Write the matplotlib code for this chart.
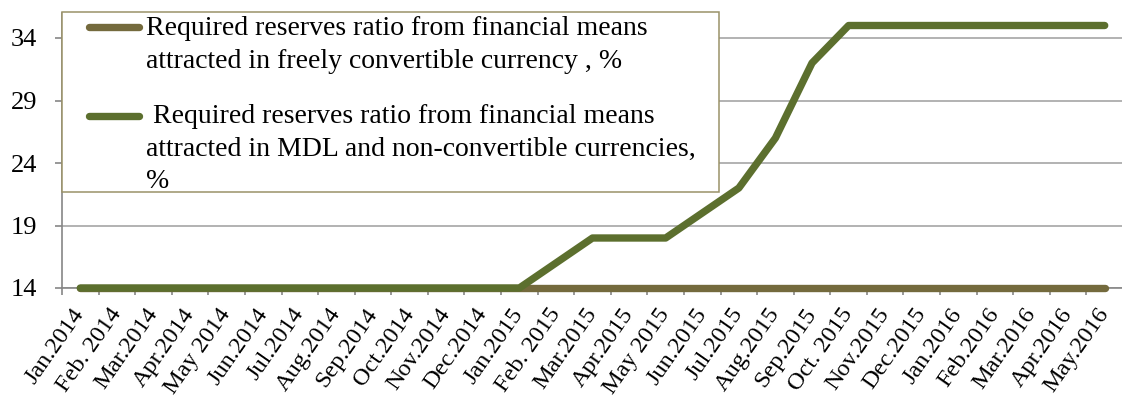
import matplotlib.pyplot as plt
import numpy as np
from matplotlib.patches import Rectangle
from matplotlib.lines import Line2D

months = ["Jan.2014", "Feb. 2014", "Mar.2014", "Apr.2014", "May 2014", "Jun.2014",
          "Jul.2014", "Aug.2014", "Sep.2014", "Oct.2014", "Nov.2014", "Dec.2014",
          "Jan.2015", "Feb. 2015", "Mar.2015", "Apr.2015", "May 2015", "Jun.2015",
          "Jul.2015", "Aug.2015", "Sep.2015", "Oct. 2015", "Nov.2015", "Dec.2015",
          "Jan.2016", "Feb.2016", "Mar.2016", "Apr.2016", "May.2016"]

# required reserves, %
fcc_ratio = [14] * 29
mdl_ratio = [14, 14, 14, 14, 14, 14, 14, 14, 14, 14, 14, 14, 14,
             16, 18, 18, 18, 20, 22, 26, 32,
             35, 35, 35, 35, 35, 35, 35, 35]

labels = ["Required reserves ratio from financial means\n"
          "attracted in freely convertible currency , %",
          " Required reserves ratio from financial means\n"
          "attracted in MDL and non-convertible currencies,\n%"]

brown = "#746A3D"
green = "#5C6F2E"
grid_gray = "#A6A6A6"
font = "Liberation Serif"

W, H = 1122, 401
fig = plt.figure(figsize=(W / 100, H / 100), dpi=100)
ax = fig.add_axes([62 / W, (H - 288) / H, 1061 / W, 275 / H])

x = np.arange(len(months))
ax.plot(x, fcc_ratio, color=brown, lw=5.3, solid_capstyle="round",
        solid_joinstyle="round", zorder=3, clip_on=False)
ax.plot(x, mdl_ratio, color=green, lw=5.3, solid_capstyle="round",
        solid_joinstyle="round", zorder=4, clip_on=False)

ax.set_xlim(-0.5, len(months) - 0.5)
ax.set_ylim(14, 36)
ax.set_yticks([14, 19, 24, 29, 34])
ax.yaxis.grid(True, color=grid_gray, lw=1.2)
ax.set_axisbelow(True)

for s in ["top", "right"]:
    ax.spines[s].set_visible(False)
for s in ["left", "bottom"]:
    ax.spines[s].set_color("#868686")
    ax.spines[s].set_linewidth(1.2)

# boundary ticks between months, labels centred on months
ax.set_xticks(np.arange(-0.5, len(months), 1.0))
ax.set_xticklabels([])
ax.set_xticks(x, minor=True)
ax.set_xticklabels(months, minor=True, rotation=55, ha="right",
                   rotation_mode="anchor", va="center", fontsize=17.5, family=font)
ax.tick_params(axis="x", which="major", length=5, color="#868686", width=1.2)
ax.tick_params(axis="x", which="minor", length=0, pad=16)
ax.tick_params(axis="y", length=5, color="#868686", width=1.2, pad=13,
               labelsize=19)
for t in ax.get_yticklabels():
    t.set_family(font)


def fx(px):
    return px / W


def fy(py):
    return 1 - py / H


# legend box drawn over the plot area
fig.add_artist(Rectangle((fx(62), fy(192)), fx(719) - fx(62), fy(12) - fy(192),
                         transform=fig.transFigure, facecolor="white",
                         edgecolor="#9A9268", lw=1.1, zorder=5))
handle_y = [27, 116]
first_baseline = [35, 123]
for color, hy, base, lab in zip([brown, green], handle_y, first_baseline, labels):
    fig.add_artist(Line2D([fx(89), fx(139)], [fy(hy), fy(hy)],
                          transform=fig.transFigure, color=color, lw=5.3,
                          solid_capstyle="round", zorder=6))
    for i, line in enumerate(lab.split("\n")):
        fig.text(fx(146), fy(base + 32.5 * i), line, fontsize=20, family=font,
                 va="baseline", ha="left", zorder=6)

fig.savefig("out.png", dpi=100)
